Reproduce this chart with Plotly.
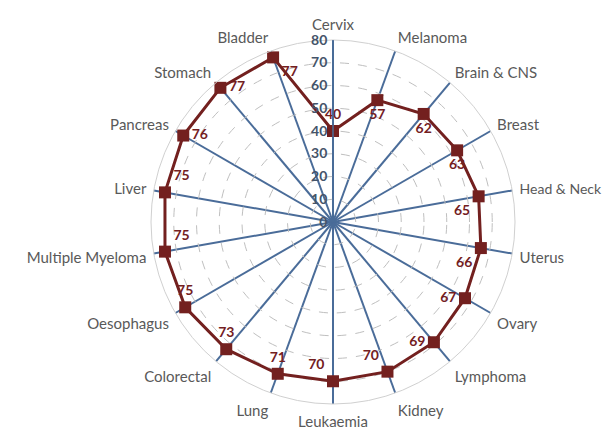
import plotly.graph_objects as go

categories = ["Cervix", "Melanoma", "Brain & CNS", "Breast", "Head & Neck", "Uterus",
              "Ovary", "Lymphoma", "Kidney", "Leukaemia", "Lung", "Colorectal",
              "Oesophagus", "Multiple Myeloma", "Liver", "Pancreas", "Stomach", "Bladder"]
values = [40, 57, 62, 63, 65, 66, 67, 69, 70, 70, 71, 73, 75, 75, 75, 76, 77, 77]
label_pos = ["top center", "bottom center", "bottom center", "bottom center", "bottom left",
             "bottom left", "middle left", "middle left", "top left", "top left",
             "top center", "top center", "top center", "top right", "top right",
             "middle right", "middle right", "bottom right"]
radial_ticks = [0, 10, 20, 30, 40, 50, 60, 70, 80]

red = "#73201F"
spoke = "#4A6C99"

# the label at the right edge is set a touch smaller so it stays inside the window
tick_text = [f'<span style="font-size:14px">{c}</span>' if c == "Head & Neck" else c
             for c in categories]

fig = go.Figure()
fig.add_trace(go.Scatterpolar(
    r=values + values[:1],
    theta=categories + categories[:1],
    mode="lines+markers+text",
    line=dict(color=red, width=3),
    marker=dict(symbol="square", size=12, color=red),
    text=[str(v) for v in values] + [""],
    textposition=label_pos + ["top center"],
    textfont=dict(family="Lato", size=14, color=red, weight="bold"),
    cliponaxis=False,
    hoverinfo="skip",
))

fig.update_layout(
    width=610, height=434,
    margin=dict(l=0, r=0, t=0, b=0),
    paper_bgcolor="white",
    showlegend=False,
    polar=dict(
        domain=dict(x=[143/610, 507/610], y=[38/434, 402/434]),
        bgcolor="white",
        gridshape="circular",
        radialaxis=dict(
            range=[0, 80], tickvals=radial_ticks,
            angle=90, tickangle=90,
            side="counterclockwise",
            showline=True, linecolor=spoke, linewidth=1.5,
            ticks="", showgrid=True, gridcolor="#BFBFBF", griddash="dash", gridwidth=1,
            tickfont=dict(family="Lato", size=14, color="#44546A", weight="bold"),
        ),
        angularaxis=dict(
            direction="clockwise", rotation=90,
            tickmode="array", tickvals=categories, ticktext=tick_text,
            showline=True, linecolor="#D0D0D0", linewidth=1,
            showgrid=True, gridcolor=spoke, gridwidth=1.5,
            ticks="outside", ticklen=4, tickcolor="rgba(0,0,0,0)",
            tickfont=dict(family="Lato", size=15, color="#595959"),
        ),
    ),
)

fig.write_html("out.html")
